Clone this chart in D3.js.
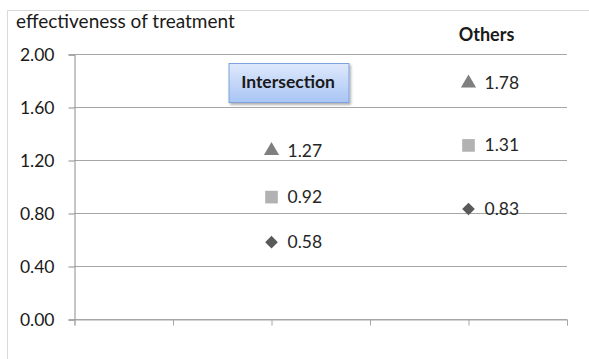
<!DOCTYPE html>
<html>
<head>
<meta charset="utf-8">
<script src="https://cdn.jsdelivr.net/npm/d3@7"></script>
<style>
  html, body { margin: 0; padding: 0; background: #fff; }
  svg { display: block; font-family: Lato, "Noto Sans", sans-serif; }
</style>
</head>
<body>
<svg id="chart" width="589" height="359"></svg>
<script>
// Group positions on the x axis and their headline labels
const groups = ["Intersection", "Others"];
const groupX = [2, 4];
// Effectiveness values per marker series
const triangleValues = [1.27, 1.78];
const squareValues = [0.92, 1.31];
const diamondValues = [0.58, 0.83];
// Axis ticks
const yTicks = [0, 0.4, 0.8, 1.2, 1.6, 2.0];
const xTicks = [0, 1, 2, 3, 4, 5];
const yTitle = "effectiveness of treatment";

const FONT = "Lato, 'Noto Sans', sans-serif";
const svg = d3.select("#chart");

// Outer chart frame
svg.append("path")
  .attr("d", "M7.5,359 V10.5 H589")
  .attr("fill", "none").attr("stroke", "#d9d9d9").attr("stroke-width", 1);

const x = d3.scaleLinear().domain([0, 5]).range([74.5, 567]);
const y = d3.scaleLinear().domain([0, 2]).range([319, 54]);

// Horizontal gridlines
svg.append("g").selectAll("line").data(yTicks).join("line")
  .attr("x1", x(0)).attr("x2", x(5))
  .attr("y1", d => Math.round(y(d)) + 0.5).attr("y2", d => Math.round(y(d)) + 0.5)
  .attr("stroke", "#a6a6a6").attr("stroke-width", 1.2);

// Y axis
const yAxis = svg.append("g")
  .attr("transform", `translate(${x(0)},0.5)`)
  .call(d3.axisLeft(y).tickValues(yTicks).tickFormat(d3.format(".2f")).tickSize(6).tickPadding(14));
yAxis.select(".domain").attr("stroke", "#8c8c8c");
yAxis.selectAll(".tick line").attr("stroke", "#8c8c8c");
yAxis.selectAll(".tick text").attr("fill", "#1a1a1a")
  .style("font-size", "17.5px").style("font-family", FONT);

// X axis (ticks only, no labels)
const xAxis = svg.append("g")
  .attr("transform", `translate(0,${Math.round(y(0)) + 0.5})`)
  .call(d3.axisBottom(x).tickValues(xTicks).tickFormat("").tickSize(6));
xAxis.select(".domain").attr("stroke", "#a6a6a6");
xAxis.selectAll(".tick line").attr("stroke", "#a6a6a6");

// Axis title
svg.append("text")
  .attr("x", 16).attr("y", 28)
  .attr("fill", "#1a1a1a").style("font-size", "19px").style("font-family", FONT)
  .text(yTitle);

// Markers and value labels
const series = [
  { values: triangleValues, symbol: d3.symbolTriangle, size: 100, rotate: 0, color: "#7f7f7f" },
  { values: squareValues, symbol: d3.symbolSquare, size: 160, rotate: 0, color: "#b2b2b2" },
  { values: diamondValues, symbol: d3.symbolSquare, size: 80, rotate: 45, color: "#595959" }
];
series.forEach(s => {
  const g = svg.append("g");
  g.selectAll("path").data(s.values).join("path")
    .attr("transform", (d, i) => `translate(${x(groupX[i])},${y(d)}) rotate(${s.rotate})`)
    .attr("d", d3.symbol().type(s.symbol).size(s.size))
    .attr("fill", s.color);
  g.selectAll("text").data(s.values).join("text")
    .attr("x", (d, i) => x(groupX[i]) + 16)
    .attr("y", d => y(d) + 6)
    .attr("fill", "#262626").style("font-size", "17.5px").style("font-family", FONT)
    .text(d => d.toFixed(2));
});

// Group headline: boxed label for the first group
const defs = svg.append("defs");
const grad = defs.append("linearGradient").attr("id", "boxFill")
  .attr("x1", 0).attr("y1", 0).attr("x2", 0).attr("y2", 1);
grad.append("stop").attr("offset", "0%").attr("stop-color", "#dfe9fc");
grad.append("stop").attr("offset", "100%").attr("stop-color", "#a8c5f4");
const shadow = defs.append("filter").attr("id", "boxShadow")
  .attr("x", "-10%").attr("y", "-10%").attr("width", "130%").attr("height", "140%");
shadow.append("feDropShadow").attr("dx", 1.5).attr("dy", 2).attr("stdDeviation", 1.2)
  .attr("flood-color", "#000").attr("flood-opacity", 0.3);

const bx = x(groupX[0]) - 43, bw = 120;
svg.append("rect")
  .attr("x", bx + 0.5).attr("y", 63.5).attr("width", bw).attr("height", 39)
  .attr("fill", "url(#boxFill)").attr("stroke", "#7fa3dc").attr("stroke-width", 1)
  .attr("filter", "url(#boxShadow)");
svg.append("text")
  .attr("x", bx + bw / 2 - 0.5).attr("y", 88)
  .attr("text-anchor", "middle").attr("fill", "#1a1a1a")
  .style("font-size", "17.5px").style("font-weight", "bold").style("font-family", FONT)
  .text(groups[0]);

// Plain headline for the second group
svg.append("text")
  .attr("x", x(groupX[1]) + 18).attr("y", 41)
  .attr("text-anchor", "middle").attr("fill", "#1a1a1a")
  .style("font-size", "18px").style("font-weight", "bold").style("font-family", FONT)
  .text(groups[1]);
</script>
</body>
</html>
